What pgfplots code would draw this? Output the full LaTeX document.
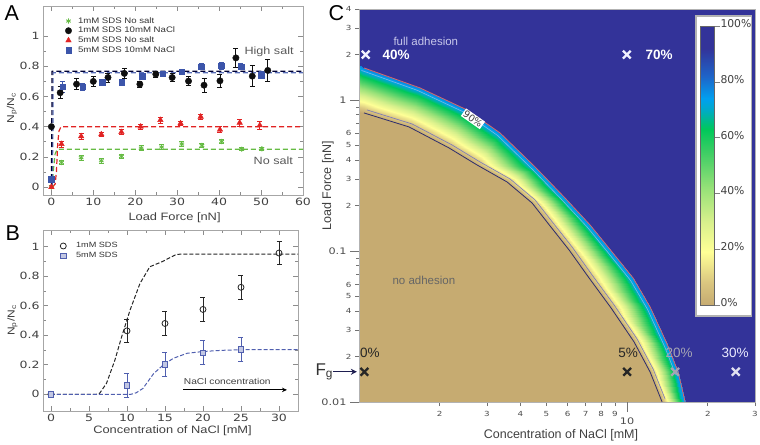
\documentclass[border=0pt]{standalone}
\usepackage{fontspec}
\setmainfont{Liberation Sans}
\newfontfamily\abfont[FakeStretch=1.2]{Liberation Sans}
\newfontfamily\tickfont[FakeStretch=1.25]{DejaVu Sans}
\newfontfamily\cbfont{DejaVu Sans}
\usepackage{pgfplots}
\pgfplotsset{compat=1.18}
\usepgfplotslibrary{patchplots}
\usetikzlibrary{arrows.meta}
\newcommand\fs[1]{\fontsize{#1}{#1}\selectfont}

\definecolor{cgreen}{RGB}{102,187,68}
\definecolor{cred}{RGB}{225,35,35}
\definecolor{cblue}{RGB}{60,85,170}
\definecolor{cblk}{RGB}{15,15,15}
\definecolor{cnavy}{RGB}{51,51,153}
\definecolor{ctan}{RGB}{198,171,113}
\definecolor{bsq}{RGB}{80,95,175}
\definecolor{cred2}{RGB}{215,105,105}

\pgfplotsset{
  abaxis/.style={
    scale only axis, tick align=inside,
    major tick length=5bp, minor tick length=3bp,
    axis line style={draw=black!35, line width=0.6bp},
    tick style={black!45, line width=0.6bp},
    ticklabel style={font={\tickfont\fs{10bp}}, text=black!75},
    /pgf/number format/assume math mode=true,
    label style={font={\abfont\fs{10.7bp}}, text=black!75},
  },
  errb/.style={
    /pgfplots/error bars/y dir=both,
    /pgfplots/error bars/y explicit,
    /pgfplots/error bars/error bar style={line width=0.8bp},
    /pgfplots/error bars/error mark options={rotate=90, mark size=2.5bp, line width=0.8bp},
  },
}

\begin{document}
\begin{tikzpicture}
\useasboundingbox (0,0) rectangle (760bp,-445bp);

% ---------------- A ----------------
\begin{axis}[abaxis,
  at={(43bp,-6bp)}, anchor=north west, width=260bp, height=189bp,
  xmin=-2, xmax=60, ymin=-0.053, ymax=1.2,
  xtick={0,10,20,30,40,50,60}, ytick={0,0.2,0.4,0.6,0.8,1},
  minor x tick num=1, minor y tick num=1,
  xlabel={Load Force [nN]}, ylabel={N\textsubscript{p}/N\textsubscript{c}},
  xlabel style={at={(axis description cs:0.506,0)}, anchor=center, yshift=-23bp},
  ylabel style={at={(axis description cs:-0.119,0.46)}, anchor=center, font={\abfont\fs{10bp}}},
  legend style={draw=none, fill=none, at={(axis description cs:0.085,0.945)}, anchor=north west,
    font={\abfont\fs{8bp}}, inner sep=0pt, row sep=0.8bp, column sep=5.5bp,
    nodes={inner sep=0.8bp, text=black!80}},
  legend cell align=left,
  legend image code/.code={\draw[#1] plot coordinates {(0bp,0bp)};},
]
% fits
\addplot[forget plot, cgreen, line width=1.2bp, dash pattern=on 5bp off 3bp] coordinates {
  (0,0) (0.2,0.02) (0.5,0.12) (0.9,0.22) (1.4,0.25) (60,0.25)};
\addplot[forget plot, cred, line width=1.2bp, dash pattern=on 5bp off 3bp] coordinates {
  (0.3,0) (0.9,0.02) (1.2,0.1) (1.5,0.28) (1.8,0.37) (2.3,0.40) (60,0.40)};
\addplot[forget plot, cblue!85, line width=1.2bp, dash pattern=on 5bp off 3bp] coordinates {
  (0.2,0) (0.38,0.4) (0.42,0.757) (60,0.757)};
\addplot[forget plot, black!80!blue, line width=1.2bp, dash pattern=on 5bp off 3bp] coordinates {
  (0,0) (0.12,0.5) (0.17,0.768) (60,0.768)};
% data
\addplot[cgreen, only marks, mark=asterisk, mark size=2.6bp, line width=0.9bp, errb]
  table[x=x, y=y, y error=e] {
x y e
0 0 0.01
2.4 0.163 0.015
7.1 0.194 0.015
11.9 0.174 0.015
16.7 0.203 0.015
21.4 0.258 0.015
26.3 0.265 0.015
31.1 0.285 0.015
35.9 0.276 0.015
40.6 0.302 0.015
45.4 0.25 0.01
50.2 0.254 0.01
};
\addlegendentry{1mM SDS No salt}
\addplot[cblk, only marks, mark=*, mark size=3.2bp, errb]
  table[x=x, y=y, y error=e] {
x y e
0 0.40 0
2.1 0.625 0.04
6.0 0.682 0.035
10.0 0.70 0.03
13.5 0.726 0.03
17.4 0.753 0.03
21.1 0.682 0.02
24.9 0.748 0.02
28.8 0.726 0.025
32.7 0.702 0.03
36.4 0.675 0.045
40.2 0.704 0.045
44.0 0.856 0.065
47.9 0.735 0.07
51.6 0.773 0.07
};
\addlegendentry{1mM SDS 10mM NaCl}
\addplot[cred, only marks, mark=triangle*, mark size=3.2bp, errb]
  table[x=x, y=y, y error=e] {
x y e
0 0 0.01
2.4 0.285 0.02
7.1 0.336 0.02
11.9 0.349 0.015
16.7 0.364 0.015
21.3 0.40 0.015
26.0 0.444 0.02
30.8 0.422 0.015
35.6 0.466 0.015
40.2 0.38 0.02
44.9 0.426 0.025
49.7 0.409 0.025
};
\addlegendentry{5mM SDS No salt}
\addplot[cblue, only marks, mark=square*, mark size=2.8bp, errb]
  table[x=x, y=y, y error=e] {
x y e
0 0.051 0.01
2.7 0.664 0.035
7.5 0.664 0.025
12.1 0.695 0.02
16.8 0.693 0.02
21.7 0.733 0.02
26.5 0.75 0.015
31.1 0.764 0.015
35.7 0.797 0.02
40.5 0.803 0.025
45.2 0.797 0.02
50.0 0.742 0.025
};
\addlegendentry{5mM SDS 10mM NaCl}
\node[anchor=east, font={\abfont\fs{10.5bp}}, text=black!65] at (axis cs:58.6,0.894) {High salt};
\node[anchor=west, font={\abfont\fs{10.5bp}}, text=black!65] at (axis cs:47.4,0.172) {No salt};
\end{axis}

% ---------------- B ----------------
\begin{axis}[abaxis,
  at={(43bp,-230bp)}, anchor=north west, width=255bp, height=181bp,
  xmin=-1.05, xmax=32.5, ymin=-0.113, ymax=1.113,
  xtick={0,5,10,15,20,25,30}, ytick={0,0.2,0.4,0.6,0.8,1},
  minor x tick num=1, minor y tick num=1,
  xlabel={Concentration of NaCl [mM]}, ylabel={N\textsubscript{p}/N\textsubscript{c}},
  xlabel style={at={(axis description cs:0.508,0)}, anchor=center, yshift=-19.7bp},
  ylabel style={at={(axis description cs:-0.12,0.5)}, anchor=center, font={\abfont\fs{10bp}}},
  legend style={draw=none, fill=none, at={(axis description cs:0.067,0.936)}, anchor=north west,
    font={\abfont\fs{7.6bp}}, inner sep=0pt, row sep=1.5bp, column sep=9bp,
    nodes={inner sep=0.8bp, text=black!80}},
  legend cell align=left,
  legend image code/.code={\draw[#1] plot coordinates {(0bp,0bp)};},
]
\addplot[forget plot, black!85, line width=1bp, dash pattern=on 4bp off 2bp] coordinates {
  (0,0) (6,0) (6.4,0.007) (7.3,0.074) (8.4,0.23) (9.3,0.39) (10.4,0.57) (11.7,0.75)
  (13,0.864) (14.6,0.898) (16.5,0.948) (17.5,0.95) (32.5,0.95)};
\addplot[forget plot, bsq, line width=1bp, dash pattern=on 4bp off 2bp] coordinates {
  (0,0) (10.5,0) (11.2,0.01) (12.1,0.04) (13.5,0.14) (14.8,0.2) (16.1,0.244)
  (17.9,0.278) (20,0.29) (22.5,0.298) (25,0.302) (32.5,0.302)};
\addplot[black!85, only marks, mark=o, mark size=3bp, line width=0.8bp,
  /pgfplots/error bars/error bar style={line width=1.1bp}, errb]
  table[x=x, y=y, y error=e] {
x y e
0 0 0
10 0.43 0.08
15 0.48 0.08
20 0.575 0.08
25 0.725 0.08
30 0.957 0.08
};
\addlegendentry{1mM SDS}
\addplot[bsq, only marks, mark=square*, mark size=2.7bp, line width=0.8bp,
  mark options={fill=bsq!35!white, draw=bsq}, errb]
  table[x=x, y=y, y error=e] {
x y e
0 0 0
10 0.06 0.08
15 0.203 0.08
20 0.282 0.08
25 0.305 0.08
};
\addlegendentry{5mM SDS}
\node[font={\abfont\fs{8.5bp}}, text=black!75] at (axis cs:23.2,0.09) {NaCl concentration};
\draw[-{Stealth[length=5bp,width=4.5bp]}, line width=0.8bp] (axis cs:17.4,0.03) -- (axis cs:31.05,0.03);
\end{axis}

% ---------------- C ----------------
\begin{axis}[
  at={(359bp,-9bp)}, anchor=north west, scale only axis, width=396bp, height=393bp,
  xmin=0, xmax=1.47712, ymin=-2, ymax=0.60206,
  axis background/.style={fill=cnavy},
  axis on top, clip=false,
  axis line style={draw=black!30, line width=0.8bp},
  tick pos=left, tick align=outside,
  xtick={0.30103,0.47712,0.60206,0.69897,0.77815,0.84510,0.90309,0.95424,1.30103,1.47712},
  xticklabels={2,3,4,5,6,7,8,9,2,3},
  ytick={-1.69897,-1.52288,-1.39794,-1.30103,-1.22185,-0.69897,-0.52288,-0.39794,-0.30103,-0.22185,0.30103,0.47712,0.60206},
  yticklabels={2,3,4,5,6,2,3,4,5,6,2,3,4},
  minor ytick={-1.15490,-1.09691,-1.04576,-0.15490,-0.09691,-0.04576},
  major tick length=4bp, minor tick length=3bp,
  tick style={black!55, line width=0.6bp},
  ticklabel style={font={\tickfont\fs{7bp}}, text=black!70},
  xticklabel style={yshift=-2bp},
  /pgf/number format/assume math mode=true,
  extra x ticks={1}, extra x tick labels={10},
  extra x tick style={major tick length=10bp, tick label style={font={\tickfont\fs{9bp}}}},
  extra y ticks={-2,-1,0}, extra y tick labels={0.01,0.1,1},
  extra y tick style={major tick length=9bp, tick label style={font={\tickfont\fs{9bp}}}},
  xlabel={Concentration of NaCl [mM]}, ylabel={Load Force [nN]},
  label style={font={\fs{12.5bp}}, text=black!75},
  xlabel style={at={(axis description cs:0.51,0)}, anchor=center, yshift=-33bp},
  ylabel style={at={(axis description cs:-0.0785,0.55)}, anchor=center},
  colormap={adh}{rgb255(0pt)=(198,171,113) rgb255(8pt)=(218,198,128) rgb255(19pt)=(255,255,150)
    rgb255(30pt)=(215,240,140) rgb255(42pt)=(150,225,120) rgb255(55pt)=(60,205,100)
    rgb255(63pt)=(0,200,90) rgb255(70pt)=(0,170,200) rgb255(74pt)=(0,160,240)
    rgb255(82pt)=(30,100,200) rgb255(92pt)=(51,51,153) rgb255(100pt)=(51,51,153)},
  point meta min=0, point meta max=100,
  colorbar,
  colorbar shift/.style={},
  colorbar style={
    at={(parent axis.north east)}, anchor=north east, xshift=-41bp, yshift=-17bp,
    scale only axis, width=14bp, height=279bp,
    xtick=\empty, extra x ticks={}, extra y ticks={}, minor ytick={},
    xlabel={}, ylabel={},
    ytick={0,20,40,60,80,100}, yticklabels={0\%,20\%,40\%,60\%,80\%,100\%},
    ytick pos=right, yticklabel pos=right,
    major tick length=6bp, tick align=outside,
    ytick style={draw=black!50, line width=0.6bp},
    yticklabel style={font={\cbfont\fs{10.8bp}}, text=black!75, inner sep=0.3bp, yshift=2.5bp},
    axis line style={draw=black!60, line width=0.6bp},
  },
]
% no adhesion region
\addplot[fill=ctan, draw=none] coordinates {
  (0,-2) (0,-0.0795) (0.0187,-0.0861) (0.1866,-0.1788) (0.3358,-0.3179) (0.4403,-0.4305)
  (0.5522,-0.5430) (0.6455,-0.6821) (0.7127,-0.8344) (0.7836,-0.9934) (0.8582,-1.1788)
  (0.9403,-1.3775) (1.0261,-1.6026) (1.0858,-1.8013) (1.1306,-2)};
% transition band
\addplot[patch, patch type=rectangle, mesh input=lattice, mesh/cols=14, shader=interp, point meta=explicit] coordinates {
  (0,0.2318) [78] (0.0187,0.2119) [78] (0.2276,0.0795) [78] (0.4030,-0.0662) [78]
  (0.5261,-0.2185) [78] (0.6567,-0.4437) [78] (0.7649,-0.6424) [78] (0.8619,-0.8278) [78]
  (0.9440,-1.0066) [78] (1.0224,-1.1788) [78] (1.0858,-1.3709) [78] (1.1493,-1.6159) [78]
  (1.1903,-1.8013) [78] (1.2164,-2) [78]
  (0,-0.0795) [0] (0.0187,-0.0861) [0] (0.1866,-0.1788) [0] (0.3358,-0.3179) [0]
  (0.4403,-0.4305) [0] (0.5522,-0.5430) [0] (0.6455,-0.6821) [0] (0.7127,-0.8344) [0]
  (0.7836,-0.9934) [0] (0.8582,-1.1788) [0] (0.9403,-1.3775) [0] (1.0261,-1.6026) [0]
  (1.0858,-1.8013) [0] (1.1306,-2) [0]
};
% contour lines
\addplot[draw=cred2, line width=0.8bp] coordinates {
  (0.0187,0.2119) (0.2276,0.0795) (0.4030,-0.0662) (0.5261,-0.2185) (0.6567,-0.4437)
  (0.7649,-0.6424) (0.8619,-0.8278) (0.9440,-1.0066) (1.0224,-1.1788) (1.0858,-1.3709)
  (1.1493,-1.6159) (1.1903,-1.8013) (1.2164,-2)};
\addplot[draw={rgb,255:red,120;green,185;blue,230}, line width=0.6bp, xshift=-2.5bp, yshift=-2.5bp] coordinates {
  (0.0187,0.2119) (0.2276,0.0795) (0.4030,-0.0662) (0.5261,-0.2185) (0.6567,-0.4437)
  (0.7649,-0.6424) (0.8619,-0.8278) (0.9440,-1.0066) (1.0224,-1.1788) (1.0858,-1.3709)
  (1.1493,-1.6159) (1.1903,-1.8013)};
\addplot[draw={rgb,255:red,120;green,120;blue,190}, line width=0.6bp, xshift=3bp, yshift=3bp] coordinates {
  (0.0187,-0.0861) (0.1866,-0.1788) (0.3358,-0.3179) (0.4403,-0.4305) (0.5522,-0.5430)
  (0.6455,-0.6821) (0.7127,-0.8344) (0.7836,-0.9934) (0.8582,-1.1788) (0.9403,-1.3775)
  (1.0261,-1.6026) (1.0858,-1.8013) (1.1306,-2)};
\addplot[draw={rgb,255:red,45;green,45;blue,110}, line width=0.8bp] coordinates {
  (0.0187,-0.0861) (0.1866,-0.1788) (0.3358,-0.3179) (0.4403,-0.4305) (0.5522,-0.5430)
  (0.6455,-0.6821) (0.7127,-0.8344) (0.7836,-0.9934) (0.8582,-1.1788) (0.9403,-1.3775)
  (1.0261,-1.6026) (1.0858,-1.8013) (1.1306,-2)};
\node[fill=white, inner sep=1bp, rotate=-35, font={\cbfont\fs{9.5bp}}, text=black!75]
  at (axis cs:0.425,-0.125) {90\%};
% measurement points
\addplot[only marks, mark=x, mark size=5.5bp, line width=2.3bp, color=white!95!blue]
  coordinates {(0.025,0.30) (0.999,0.30)};
\addplot[only marks, mark=x, mark size=5.5bp, line width=2.3bp, color=black!85]
  coordinates {(0.02,-1.80) (1.0,-1.80)};
\addplot[only marks, mark=x, mark size=5.5bp, line width=2.3bp, color={rgb,255:red,165;green,165;blue,180}]
  coordinates {(1.179,-1.80)};
\addplot[only marks, mark=x, mark size=5.5bp, line width=2.3bp, color={rgb,255:red,225;green,225;blue,240}]
  coordinates {(1.4055,-1.80)};
\node[anchor=west, font={\bfseries\fs{13.5bp}}, text=white] at (axis cs:0.0746,0.30) {40\%};
\node[anchor=west, font={\bfseries\fs{13.5bp}}, text=white] at (axis cs:1.056,0.30) {70\%};
\node[font={\fs{13.5bp}}, text=black!85] at (axis cs:0.041,-1.673) {0\%};
\node[font={\fs{13.5bp}}, text=black!85] at (axis cs:1.004,-1.673) {5\%};
\node[font={\fs{13.5bp}}, text={rgb,255:red,165;green,165;blue,180}] at (axis cs:1.194,-1.673) {20\%};
\node[font={\fs{13.5bp}}, text=white!92!blue] at (axis cs:1.403,-1.673) {30\%};
\node[anchor=west, font={\fs{11.5bp}}, text={rgb,255:red,200;green,200;blue,235}] at (axis cs:0.1157,0.386) {full adhesion};
\node[anchor=west, font={\fs{11.5bp}}, text=black!60] at (axis cs:0.112,-1.197) {no adhesion};
\node[anchor=west, text=black!80] at (axis cs:-0.175,-1.80) {\fs{17bp}F\textsubscript{g}};
\draw[-{Stealth[length=6bp,width=6bp]}, line width=1.3bp, draw={rgb,255:red,30;green,30;blue,80}]
  (axis cs:-0.097,-1.80) -- (axis cs:-0.008,-1.80);
% colour bar frame
\draw[fill=white, draw=black!30, line width=1.2bp] (axis description cs:0.851,0.982) rectangle (axis description cs:0.992,0.219);
\end{axis}

\node[anchor=base west, font={\fs{21.5bp}}] at (1bp,-20.5bp) {A};
\node[anchor=base west, font={\fs{21.5bp}}] at (2bp,-240bp) {B};
\node[anchor=base west, font={\fs{21.5bp}}] at (325bp,-20bp) {C};
\end{tikzpicture}
\end{document}
